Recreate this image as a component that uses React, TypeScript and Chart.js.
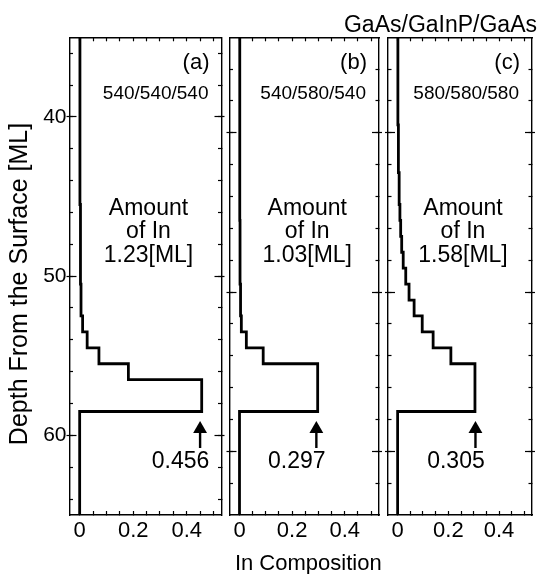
import React, { useEffect, useRef } from "react";
import { Chart, registerables } from "chart.js";

Chart.register(...registerables);

const FONT = "'Liberation Sans', Arial, Helvetica, sans-serif";

// ---- text content ----
const panelTags = ["(a)", "(b)", "(c)"];
const growthTemps = ["540/540/540", "540/580/540", "580/580/580"];
const amountLines = ["Amount", "of In"];
const inAmounts = ["1.23[ML]", "1.03[ML]", "1.58[ML]"];
const peakLabels = ["0.456", "0.297", "0.305"];
const structureLabel = "GaAs/GaInP/GaAs";
const xAxisTitle = "In Composition";
const yAxisTitle = "Depth From the Surface [ML]";

// ---- ticks ----
const xTickLabels = [0, 0.2, 0.4];
const xTicks = [0, 0.05, 0.1, 0.15, 0.2, 0.25, 0.3, 0.35, 0.4, 0.45, 0.5];
const yTickLabels = [40, 50, 60];
const yMinorTicks = [36, 38, 40, 42, 44, 46, 48, 50, 52, 54, 56, 58, 60, 62, 64];

// ---- axis ranges ----
const depthRanges = [
  [35, 65],
  [34, 64],
  [34, 64],
];
const compRange = [-0.038, 0.53];

// ---- profiles: top depth of each layer (ML) and its In composition ----
const depthA = [35, 45.5, 50.5, 52.5, 53.5, 54.5, 55.5, 56.5, 58.5, 65];
const compA = [0.001, 0.003, 0.005, 0.011, 0.028, 0.072, 0.182, 0.456, 0, 0];
const depthB = [34, 45.5, 49.5, 51.5, 52.5, 53.5, 54.5, 57.5, 64];
const compB = [0.001, 0.002, 0.004, 0.007, 0.026, 0.09, 0.297, 0, 0];
const depthC = [34, 39.5, 42.5, 44.5, 45.5, 46.5, 47.5, 48.5, 49.5, 50.5, 51.5, 52.5, 53.5, 54.5, 57.5, 64];
const compC = [0.001, 0.003, 0.006, 0.009, 0.012, 0.016, 0.022, 0.032, 0.045, 0.065, 0.097, 0.14, 0.21, 0.305, 0, 0];

const profileDepths = [depthA, depthB, depthC];
const profileComps = [compA, compB, compC];

// ---- arrows marking the peak composition ----
const arrowComp = [0.45, 0.292, 0.307];
const arrowHead = [59.6, 58.6, 58.6];
const arrowTail = [60.8, 59.8, 59.8];

// ---- layout (pixels) ----
const W = 540;
const H = 574;
const PLOT_TOP = 37.3;
const PLOT_BOTTOM = 515;
const panelBoxes = [
  { left: 69.5, right: 221.5 },
  { left: 229.5, right: 379 },
  { left: 388, right: 536 },
];

const zeroSize = (s: any) => {
  if (s.isHorizontal()) s.height = 0;
  else s.width = 0;
};

function near(v: number, list: number[]) {
  return list.some((t) => Math.abs(v - t) < 1e-6);
}

function makeScales(i: number) {
  const [dmin, dmax] = depthRanges[i];
  const box = panelBoxes[i];
  const xBase = (pos: string, showLabels: boolean, fit: (s: any) => void) => ({
    type: "linear",
    position: pos,
    min: compRange[0],
    max: compRange[1],
    afterFit: fit,
    afterBuildTicks: (s: any) => {
      s.ticks = xTicks.map((v) => ({ value: v }));
    },
    border: { display: true, color: "#000", width: 1.4 },
    grid: {
      display: true,
      drawOnChartArea: false,
      drawTicks: true,
      tickLength: -4,
      tickColor: "#000",
      tickWidth: 1.2,
    },
    ticks: {
      display: showLabels,
      autoSkip: false,
      maxRotation: 0,
      minRotation: 0,
      padding: 7,
      color: "#000",
      font: { family: FONT, size: 22 },
      callback: (v: number) => {
        const r = Math.round(v * 100) / 100;
        return near(r, xTickLabels) ? String(r) : "";
      },
    },
  });
  const yBase = (
    pos: string,
    values: number[],
    len: number,
    showLabels: boolean,
    border: boolean,
    weight: number,
    fit: (s: any) => void
  ) => ({
    type: "linear",
    position: pos,
    reverse: true,
    min: dmin,
    max: dmax,
    weight,
    afterFit: fit,
    afterBuildTicks: (s: any) => {
      s.ticks = values.filter((v) => v > dmin && v < dmax).map((v) => ({ value: v }));
    },
    border: { display: border, color: "#000", width: 1.4 },
    grid: {
      display: true,
      drawOnChartArea: false,
      drawTicks: true,
      tickLength: len,
      tickColor: "#000",
      tickWidth: 1.2,
    },
    ticks: {
      display: showLabels,
      autoSkip: false,
      padding: 0,
      color: "#000",
      font: { family: FONT, size: 21 },
      callback: (v: number) => (near(v, yTickLabels) ? String(v) : ""),
    },
  });
  return {
    x: xBase("bottom", true, (s: any) => {
      s.height = H - PLOT_BOTTOM;
    }),
    x2: xBase("top", false, zeroSize),
    y: yBase("left", yMinorTicks, -3.5, false, true, 0, zeroSize),
    y2: yBase("right", yMinorTicks, -3.5, false, true, 0, zeroSize),
    yM: yBase("left", yTickLabels, -7, false, false, 1, zeroSize),
    yM2: yBase("right", yTickLabels, -7, false, false, 1, zeroSize),
    yO: yBase("left", yTickLabels, 3, i === 0, false, 10, (s: any) => {
      s.width = box.left;
    }),
    yO2: yBase("right", yTickLabels, 3, false, false, 10, zeroSize),
  };
}

function annotationPlugin(i: number) {
  return {
    id: "annot" + i,
    afterDraw(chart: any) {
      const { ctx, chartArea: ca, scales } = chart;
      ctx.save();
      ctx.fillStyle = "#000";
      ctx.textBaseline = "alphabetic";

      ctx.textAlign = "right";
      ctx.font = `22px ${FONT}`;
      ctx.fillText(panelTags[i], ca.right - 12, 69);
      ctx.font = `19px ${FONT}`;
      ctx.fillText(growthTemps[i], ca.right - 13, 99);

      ctx.textAlign = "center";
      ctx.font = `23px ${FONT}`;
      const cx = (ca.left + ca.right) / 2 + 3;
      ctx.fillText(amountLines[0], cx, 215);
      ctx.fillText(amountLines[1], cx, 238);
      ctx.fillText(inAmounts[i], cx, 262);

      const ax = scales.x.getPixelForValue(arrowComp[i]);
      ctx.fillText(peakLabels[i], ax - 19.5, 468);

      if (i === 0) {
        ctx.save();
        ctx.translate(26.5, 284);
        ctx.rotate(-Math.PI / 2);
        ctx.font = `25px ${FONT}`;
        ctx.textAlign = "center";
        ctx.fillText(yAxisTitle, 0, 0);
        ctx.restore();
      }
      if (i === 1) {
        ctx.font = `22px ${FONT}`;
        ctx.textAlign = "center";
        ctx.fillText(xAxisTitle, cx + 1, 570);
      }
      if (i === 2) {
        ctx.font = `23px ${FONT}`;
        ctx.textAlign = "right";
        ctx.fillText(structureLabel, 537, 31.5);
      }
      ctx.restore();
    },
  };
}

function makeConfig(i: number): any {
  const depths = profileDepths[i];
  const comps = profileComps[i];
  const box = panelBoxes[i];
  return {
    type: "line",
    data: {
      datasets: [
        {
          data: depths.map((d, k) => ({ x: comps[k], y: d })),
          borderColor: "#000",
          borderWidth: 2.8,
          stepped: "after",
          pointRadius: 0,
          fill: false,
          borderJoinStyle: "miter",
          xAxisID: "x",
          yAxisID: "y",
        },
        {
          data: [
            { x: arrowComp[i], y: arrowTail[i] },
            { x: arrowComp[i], y: arrowHead[i] },
          ],
          borderColor: "#000",
          borderWidth: 2.4,
          pointRadius: [0, 8],
          pointStyle: "triangle",
          pointBackgroundColor: "#000",
          pointBorderWidth: 0,
          fill: false,
          xAxisID: "x",
          yAxisID: "y",
        },
      ],
    },
    options: {
      responsive: false,
      animation: false,
      devicePixelRatio: 1,
      events: [],
      layout: {
        padding: {
          left: 0,
          right: W - box.right,
          top: PLOT_TOP,
          bottom: 0,
        },
      },
      plugins: {
        legend: { display: false },
        tooltip: { enabled: false },
        title: { display: false },
      },
      scales: makeScales(i),
    },
    plugins: [annotationPlugin(i)],
  };
}

export default function App() {
  const canvases = useRef<(HTMLCanvasElement | null)[]>([]);
  useEffect(() => {
    const charts = [0, 1, 2].map((i) => new Chart(canvases.current[i] as HTMLCanvasElement, makeConfig(i)));
    return () => charts.forEach((c) => c.destroy());
  }, []);
  return (
    <div style={{ position: "absolute", left: 0, top: 0, width: W, height: H, background: "#fff" }}>
      {[0, 1, 2].map((i) => (
        <canvas
          key={i}
          ref={(el) => {
            canvases.current[i] = el;
          }}
          width={W}
          height={H}
          style={{ position: "absolute", left: 0, top: 0, width: W, height: H }}
        />
      ))}
    </div>
  );
}
